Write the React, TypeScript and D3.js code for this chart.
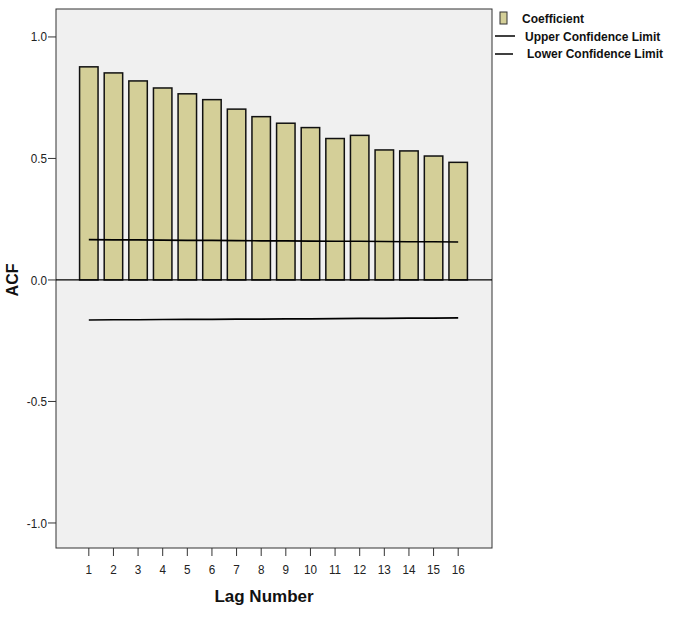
import React from "react";
import { scaleBand, scaleLinear } from "d3";

// lag numbers and ACF coefficients
const lags = [1, 2, 3, 4, 5, 6, 7, 8, 9, 10, 11, 12, 13, 14, 15, 16];
const coefficients = [
  0.877, 0.852, 0.819, 0.79, 0.766, 0.742, 0.703, 0.672, 0.645, 0.627, 0.582,
  0.595, 0.535, 0.531, 0.51, 0.484,
];
const upperLimit = [
  0.166, 0.165, 0.165, 0.164, 0.163, 0.163, 0.162, 0.161, 0.161, 0.16, 0.159,
  0.159, 0.158, 0.157, 0.157, 0.156,
];
const lowerLimit = [
  -0.165, -0.164, -0.164, -0.163, -0.162, -0.162, -0.161, -0.161, -0.16, -0.16,
  -0.159, -0.158, -0.158, -0.157, -0.157, -0.156,
];
const yTicks = [1.0, 0.5, 0.0, -0.5, -1.0];
const legendItems = ["Coefficient", "Upper Confidence Limit", "Lower Confidence Limit"];

const W = 679;
const H = 627;
const plot = { left: 56, right: 492, top: 9, bottom: 548 };

export default function App() {
  const x = scaleBand<number>()
    .domain(lags)
    .range([76.5, 470.5])
    .paddingInner(0.25)
    .paddingOuter(0.125);
  const y = scaleLinear().domain([-1.103, 1.115]).range([plot.bottom, plot.top]);
  const cx = (d: number) => (x(d) as number) + x.bandwidth() / 2;

  const limitPath = (vals: number[]) =>
    vals.map((v, i) => `${i ? "L" : "M"}${cx(lags[i])},${y(v)}`).join("");

  const tickFont = "'Liberation Sans', Arial, sans-serif";

  return (
    <svg
      width={W}
      height={H}
      style={{ position: "absolute", left: 0, top: 0, background: "#fff" }}
    >
      {/* plot area */}
      <rect
        x={plot.left}
        y={plot.top}
        width={plot.right - plot.left}
        height={plot.bottom - plot.top}
        fill="#f0f0f0"
        stroke="#333"
        strokeWidth={1}
      />

      {/* bars */}
      {lags.map((d, i) => (
        <rect
          key={d}
          x={x(d)}
          y={y(coefficients[i])}
          width={x.bandwidth()}
          height={y(0) - y(coefficients[i])}
          fill="#d4cf98"
          stroke="#111"
          strokeWidth={1.5}
        />
      ))}

      {/* zero line */}
      <line x1={plot.left} x2={plot.right} y1={y(0)} y2={y(0)} stroke="#000" strokeWidth={1.3} />

      {/* confidence limits */}
      <path d={limitPath(upperLimit)} fill="none" stroke="#000" strokeWidth={1.6} />
      <path d={limitPath(lowerLimit)} fill="none" stroke="#000" strokeWidth={1.6} />

      {/* y axis */}
      {yTicks.map((t) => (
        <g key={t}>
          <line x1={plot.left - 8} x2={plot.left} y1={y(t)} y2={y(t)} stroke="#333" />
          <text
            x={plot.left - 9}
            y={y(t)}
            dy="0.35em"
            textAnchor="end"
            fontFamily={tickFont}
            fontSize={13}
            fill="#222"
            transform={`translate(${(plot.left - 9) * 0.1},0) scale(0.9,1)`}
          >
            {t.toFixed(1)}
          </text>
        </g>
      ))}
      <text
        transform={`translate(18,${y(0)}) rotate(-90)`}
        textAnchor="middle"
        fontFamily={tickFont}
        fontWeight="bold"
        fontSize={16}
        fill="#111"
      >
        ACF
      </text>

      {/* x axis */}
      {lags.map((d) => (
        <g key={d}>
          <line x1={cx(d)} x2={cx(d)} y1={plot.bottom} y2={plot.bottom + 8} stroke="#333" />
          <text
            x={cx(d)}
            y={plot.bottom + 26}
            textAnchor="middle"
            fontFamily={tickFont}
            fontSize={13}
            fill="#222"
            transform={`translate(${cx(d) * 0.1},0) scale(0.9,1)`}
          >
            {d}
          </text>
        </g>
      ))}
      <text
        x={264}
        y={602}
        textAnchor="middle"
        fontFamily={tickFont}
        fontWeight="bold"
        fontSize={17}
        fill="#111"
      >
        Lag Number
      </text>

      {/* legend */}
      <rect x={500} y={12} width={7} height={12} fill="#d4cf98" stroke="#333" />
      <text x={522} y={23} fontFamily={tickFont} fontWeight="bold" fontSize={12} fill="#111">
        {legendItems[0]}
      </text>
      <line x1={495} x2={515} y1={36} y2={36} stroke="#000" strokeWidth={1.5} />
      <text x={525} y={41} fontFamily={tickFont} fontWeight="bold" fontSize={12} fill="#111">
        {legendItems[1]}
      </text>
      <line x1={495} x2={513} y1={54} y2={54} stroke="#000" strokeWidth={1.5} />
      <text x={527} y={58} fontFamily={tickFont} fontWeight="bold" fontSize={12} fill="#111">
        {legendItems[2]}
      </text>
    </svg>
  );
}
